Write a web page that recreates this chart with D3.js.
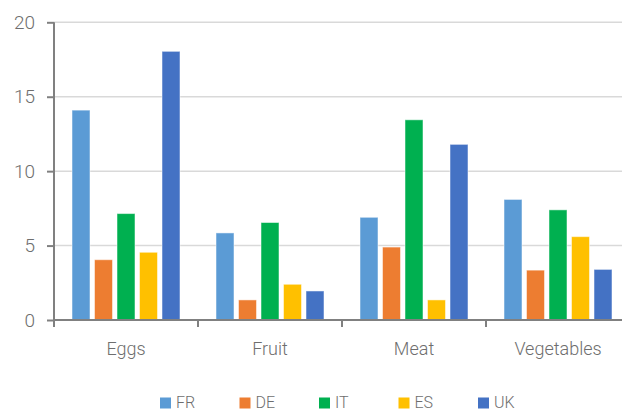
<!DOCTYPE html>
<html>
<head>
<meta charset="utf-8">
<script src="https://cdn.jsdelivr.net/npm/d3@7"></script>
<style>
  html, body { margin: 0; padding: 0; background: #fff; }
  svg { display: block; font-family: Roboto, "DejaVu Sans", sans-serif; }
</style>
</head>
<body>
<div id="chart"></div>
<script>
// ── Data ─────────────────────────────────────────────────────────
const categories = ['Eggs', 'Fruit', 'Meat', 'Vegetables'];
const countries = ['FR', 'DE', 'IT', 'ES', 'UK'];
const FR = [14.1, 5.85, 6.9, 8.1];
const DE = [4.05, 1.35, 4.9, 3.35];
const IT = [7.15, 6.55, 13.45, 7.4];
const ES = [4.55, 2.4, 1.35, 5.6];
const UK = [18.05, 1.95, 11.8, 3.4];
const yTicks = [0, 5, 10, 15, 20];

const series = { FR, DE, IT, ES, UK };
const COLORS = { FR: '#5B9BD5', DE: '#ED7D31', IT: '#00B050', ES: '#FFC000', UK: '#4472C4' };
const TEXT = '#6e6e6e';

// ── Layout ───────────────────────────────────────────────────────
const W = 622, H = 412;
const plotLeft = 54, plotRight = 630, plotTop = 22.3, plotBottom = 320;

const svg = d3.select('#chart').append('svg')
  .attr('width', W)
  .attr('height', H);

const x0 = d3.scaleBand().domain(categories).range([plotLeft, plotRight]);
const x1 = d3.scaleBand().domain(countries).range([0, x0.bandwidth()])
  .paddingInner(0.2).paddingOuter(0.8);
const y = d3.scaleLinear().domain([0, 20]).range([plotBottom, plotTop]);

// gridlines
svg.append('g')
  .selectAll('line')
  .data(yTicks.filter(t => t > 0))
  .enter().append('line')
  .attr('x1', plotLeft).attr('x2', W)
  .attr('y1', d => y(d)).attr('y2', d => y(d))
  .attr('stroke', '#d9d9d9')
  .attr('stroke-width', 1.5);

// bars
const groups = svg.append('g')
  .selectAll('g')
  .data(categories)
  .enter().append('g')
  .attr('transform', d => `translate(${x0(d)},0)`);

groups.selectAll('rect')
  .data((d, i) => countries.map(c => ({ c, v: series[c][i] })))
  .enter().append('rect')
  .attr('x', d => x1(d.c))
  .attr('width', x1.bandwidth())
  .attr('y', d => y(d.v))
  .attr('height', d => y(0) - y(d.v))
  .attr('fill', d => COLORS[d.c])
  .attr('stroke', '#fff')
  .attr('stroke-opacity', 0.5)
  .attr('stroke-width', 1);

// y axis
const yAxis = svg.append('g')
  .attr('transform', `translate(${plotLeft},0)`)
  .call(d3.axisLeft(y).tickValues(yTicks).tickSize(7).tickPadding(12).tickFormat(d3.format('d')));
yAxis.select('.domain').attr('stroke', '#808080').attr('stroke-width', 2).attr('d', `M0,${plotTop}V${plotBottom}`);
yAxis.selectAll('.tick line').attr('stroke', '#808080').attr('stroke-width', 2);
yAxis.selectAll('.tick text')
  .attr('fill', TEXT)
  .attr('font-size', 19)
  .attr('font-weight', 300)
  .attr('font-family', 'Roboto, sans-serif');

// x axis
const xAxis = svg.append('g')
  .attr('transform', `translate(0,${plotBottom})`)
  .call(d3.axisBottom(x0).tickSize(0).tickPadding(22));
xAxis.select('.domain').attr('stroke', '#808080').attr('stroke-width', 2).attr('d', `M${plotLeft},0H${W}`);
xAxis.selectAll('.tick text')
  .attr('fill', TEXT)
  .attr('font-size', 18)
  .attr('font-weight', 300)
  .attr('font-family', 'Roboto, sans-serif');

// category boundary ticks
svg.append('g')
  .selectAll('line')
  .data(categories)
  .enter().append('line')
  .attr('x1', d => x0(d)).attr('x2', d => x0(d))
  .attr('y1', plotBottom).attr('y2', plotBottom + 7)
  .attr('stroke', '#808080')
  .attr('stroke-width', 2);

// legend
const legendX = d3.scalePoint().domain(countries).range([160, 478]);
const legend = svg.append('g')
  .selectAll('g')
  .data(countries)
  .enter().append('g')
  .attr('transform', d => `translate(${legendX(d)},${403})`);

legend.append('rect')
  .attr('x', 0).attr('y', -5.5)
  .attr('width', 11).attr('height', 11)
  .attr('fill', d => COLORS[d]);

legend.append('text')
  .attr('x', 16).attr('y', 5.2)
  .attr('fill', TEXT)
  .attr('font-size', 16)
  .attr('font-weight', 300)
  .text(d => d);
</script>
</body>
</html>
